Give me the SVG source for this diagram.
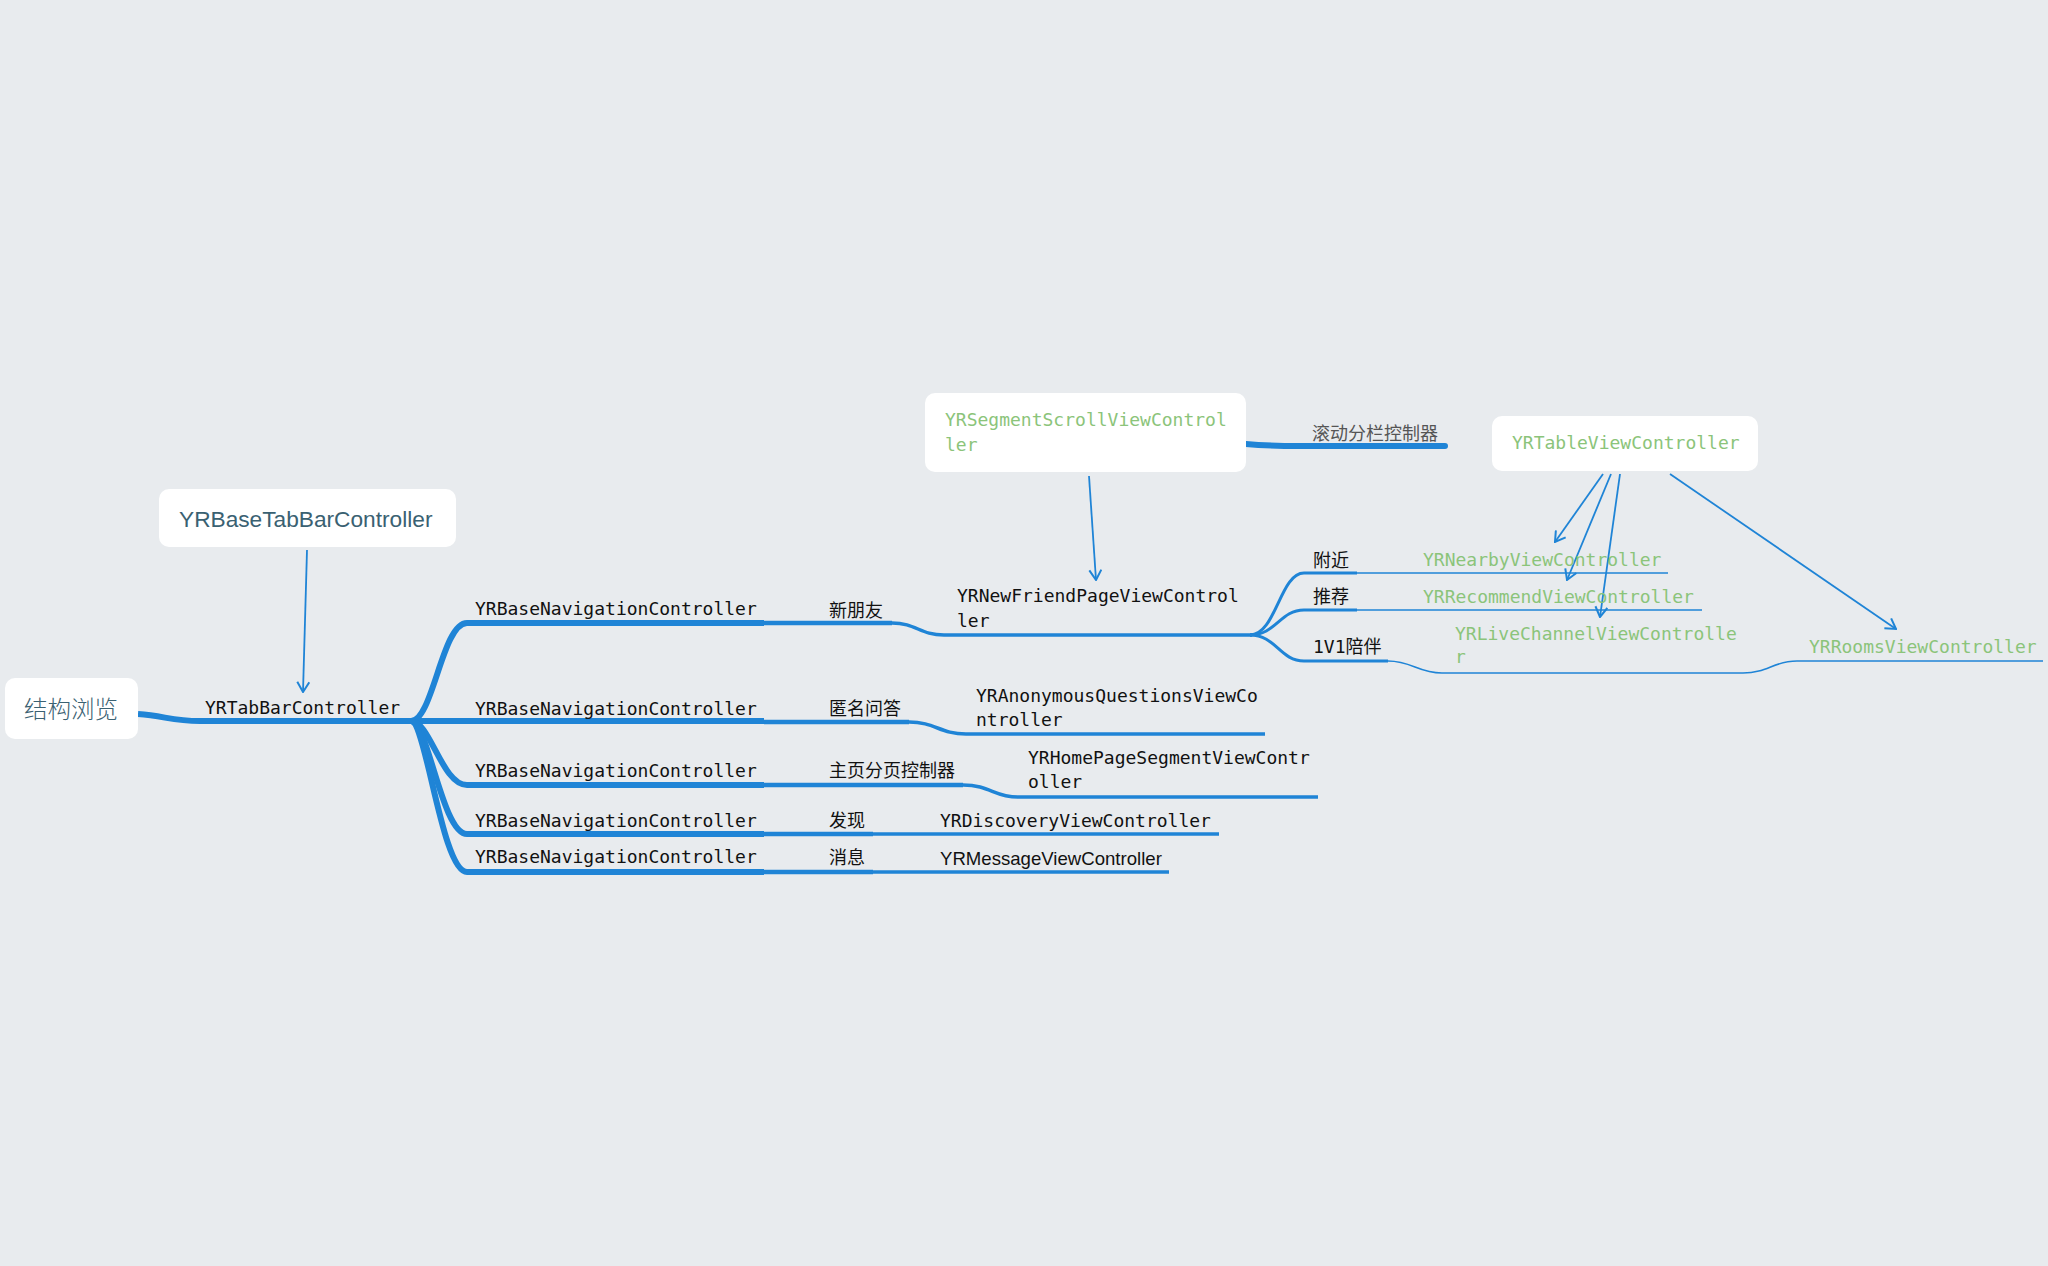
<svg xmlns="http://www.w3.org/2000/svg" width="2048" height="1266" viewBox="0 0 2048 1266">
<defs>
<marker id="arr" viewBox="0 0 12 14" refX="11" refY="7" markerWidth="12" markerHeight="14" markerUnits="userSpaceOnUse" orient="auto">
<path d="M1,1 L11,7 L1,13" fill="none" stroke="#1f84d6" stroke-width="2"/>
</marker>
<style>
.bg{fill:#e8ebee}
.box{fill:#ffffff}
.c{fill:none;stroke:#1f84d6}
.w1{stroke-width:6}
.w2{stroke-width:4.5}
.w3{stroke-width:3.5}
.w4{stroke-width:3}
.w5{stroke-width:1.6}
.ar{fill:none;stroke:#1f84d6;stroke-width:1.8}
.mono{font-family:"DejaVu Sans Mono","Noto Sans CJK SC",monospace;font-size:18px;fill:#111}
.green{fill:#8bc47a}
.cjk{font-family:"Noto Sans CJK SC",sans-serif;font-size:18px;fill:#111}
.sans{font-family:"Liberation Sans",Arial,sans-serif}
.dark{fill:#3a6172;font-weight:300}
</style>
</defs>
<rect class="bg" x="0" y="0" width="2048" height="1266"/>

<g id="connectors">
<path class="c w1" d="M138,714 C165,716 172,721 200,721 L411,721"/>
<path class="c w1" d="M411,721 C433,721 442,623 467,623 L764,623"/>
<path class="c w1" d="M411,721 L764,721"/>
<path class="c w1" d="M411,721 C430,721 442,785 467,785 L764,785"/>
<path class="c w1" d="M411,721 C428,721 442,834 467,834 L764,834"/>
<path class="c w1" d="M411,721 C426,721 442,872 467,872 L764,872"/>
<path class="c w2" d="M764,623 L892,623"/>
<path class="c w2" d="M764,722 L909,722"/>
<path class="c w2" d="M764,785 L963,785"/>
<path class="c w2" d="M764,834 L873,834"/>
<path class="c w2" d="M764,872 L873,872"/>
<path class="c w3" d="M892,623 C916,623 920,635 944,635 L1252,635"/>
<path class="c w3" d="M909,722 C935,722 940,734 966,734 L1265,734"/>
<path class="c w3" d="M963,785 C990,785 994,797 1018,797 L1318,797"/>
<path class="c w3" d="M873,834 L1219,834"/>
<path class="c w3" d="M873,872 L1169,872"/>
<path class="c w4" d="M1250,635 C1276,635 1280,573 1304,573 L1357,573"/>
<path class="c w4" d="M1250,635 C1276,635 1280,610 1304,610 L1357,610"/>
<path class="c w4" d="M1250,635 C1276,635 1280,661 1304,661 L1388,661"/>
<path class="c w5" d="M1357,573 L1668,573"/>
<path class="c w5" d="M1357,610 L1702,610"/>
<path class="c w5" d="M1388,661 C1412,661 1418,673 1442,673 L1743,673 C1768,673 1773,661 1797,661 L2043,661"/>
<path class="c w1" d="M1246,444 C1268,446 1280,446 1300,446 L1445,446" stroke-linecap="round"/>
<path class="ar" d="M307,550 L303,692" marker-end="url(#arr)"/>
<path class="ar" d="M1089,476 L1096,580" marker-end="url(#arr)"/>
<path class="ar" d="M1603,474 L1555,542" marker-end="url(#arr)"/>
<path class="ar" d="M1611,474 L1567,580" marker-end="url(#arr)"/>
<path class="ar" d="M1620,474 L1600,617" marker-end="url(#arr)"/>
<path class="ar" d="M1670,474 L1896,629" marker-end="url(#arr)"/>
</g>

<g id="root">
<rect class="box" x="5" y="678" width="133" height="61" rx="10"/>
<text class="cjk dark" x="24" y="718" style="font-size:23.5px">结构浏览</text>
</g>
<g id="baseTabBar">
<rect class="box" x="159" y="489" width="297" height="58" rx="10"/>
<text class="sans dark" x="179" y="527" style="font-size:22.7px">YRBaseTabBarController</text>
</g>
<g id="tabBar"><text class="mono" x="205" y="714">YRTabBarController</text></g>
<g id="nav1"><text class="mono" x="475" y="615">YRBaseNavigationController</text></g>
<g id="nav2"><text class="mono" x="475" y="715">YRBaseNavigationController</text></g>
<g id="nav3"><text class="mono" x="475" y="777">YRBaseNavigationController</text></g>
<g id="nav4"><text class="mono" x="475" y="827">YRBaseNavigationController</text></g>
<g id="nav5"><text class="mono" x="475" y="863">YRBaseNavigationController</text></g>
<g id="lbl1"><text class="cjk" x="829" y="617">新朋友</text></g>
<g id="lbl2"><text class="cjk" x="829" y="715">匿名问答</text></g>
<g id="lbl3"><text class="cjk" x="829" y="777">主页分页控制器</text></g>
<g id="lbl4"><text class="cjk" x="829" y="827">发现</text></g>
<g id="lbl5"><text class="cjk" x="829" y="864">消息</text></g>
<g id="newFriend"><text class="mono" x="957" y="602">YRNewFriendPageViewControl</text><text class="mono" x="957" y="627">ler</text></g>
<g id="anonymous"><text class="mono" x="976" y="702">YRAnonymousQuestionsViewCo</text><text class="mono" x="976" y="726">ntroller</text></g>
<g id="homePage"><text class="mono" x="1028" y="764">YRHomePageSegmentViewContr</text><text class="mono" x="1028" y="788">oller</text></g>
<g id="discovery"><text class="mono" x="940" y="827">YRDiscoveryViewController</text></g>
<g id="message"><text class="sans" x="940" y="865" style="font-size:18.6px;fill:#111">YRMessageViewController</text></g>
<g id="segment">
<rect class="box" x="925" y="393" width="321" height="79" rx="10"/>
<text class="mono green" x="945" y="426">YRSegmentScrollViewControl</text>
<text class="mono green" x="945" y="451">ler</text>
</g>
<g id="segLabel"><text class="cjk" x="1312" y="440" style="fill:#555">滚动分栏控制器</text></g>
<g id="tableVC">
<rect class="box" x="1492" y="416" width="266" height="55" rx="10"/>
<text class="mono green" x="1512" y="449">YRTableViewController</text>
</g>
<g id="nearbyLbl"><text class="mono" x="1313" y="567">附近</text></g>
<g id="recommendLbl"><text class="mono" x="1313" y="603">推荐</text></g>
<g id="oneLbl"><text class="mono" x="1313" y="653">1V1陪伴</text></g>
<g id="nearby"><text class="mono green" x="1423" y="566">YRNearbyViewController</text></g>
<g id="recommend"><text class="mono green" x="1423" y="603">YRRecommendViewController</text></g>
<g id="liveChannel"><text class="mono green" x="1455" y="640">YRLiveChannelViewControlle</text><text class="mono green" x="1455" y="663">r</text></g>
<g id="rooms"><text class="mono green" x="1809" y="653">YRRoomsViewController</text></g>
</svg>
